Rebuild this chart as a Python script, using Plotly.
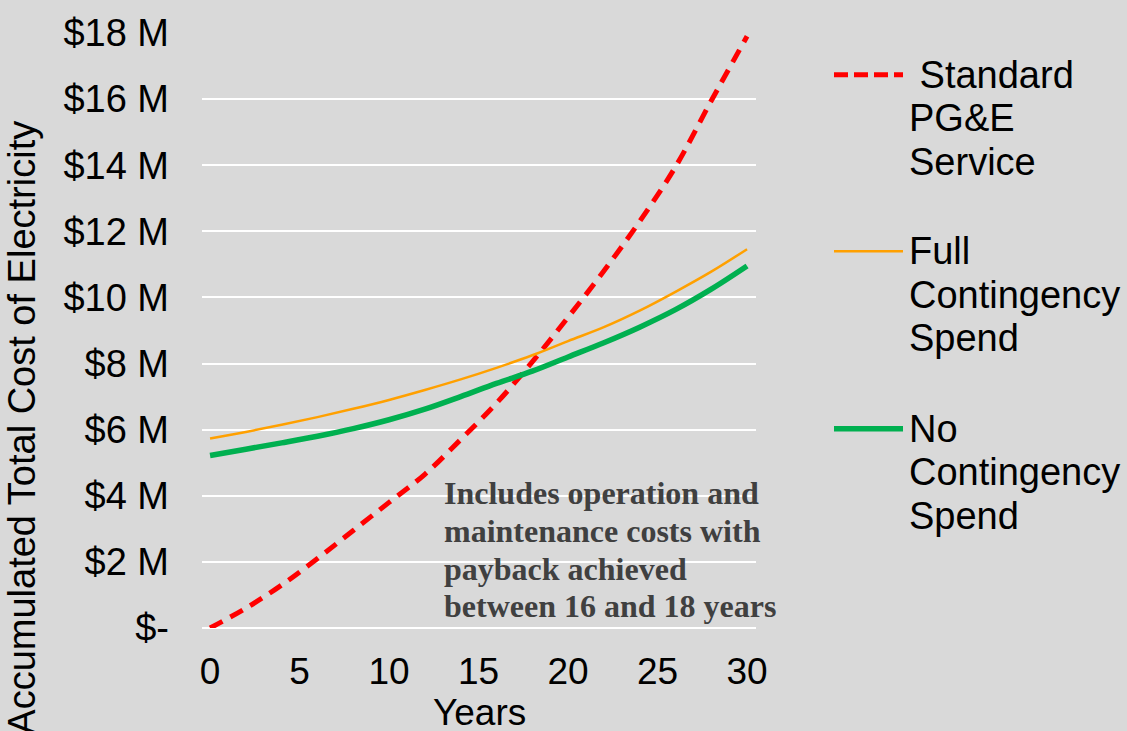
import plotly.graph_objects as go

# ---- data ----
years = [0, 2, 4, 6, 8, 10, 12, 14, 16, 18, 20, 22, 24, 26, 28, 30]
standard_pge = [0.0, 0.6, 1.3, 2.1, 2.95, 3.8, 4.65, 5.7, 6.8, 8.05, 9.4, 10.8, 12.3, 13.95, 15.95, 17.9]
full_contingency = [5.73, 5.93, 6.15, 6.38, 6.63, 6.9, 7.2, 7.52, 7.87, 8.25, 8.68, 9.1, 9.6, 10.17, 10.78, 11.46]
no_contingency = [5.22, 5.41, 5.6, 5.8, 6.03, 6.3, 6.62, 7.0, 7.4, 7.77, 8.2, 8.63, 9.1, 9.63, 10.25, 10.95]

x_ticks = [0, 5, 10, 15, 20, 25, 30]
y_ticks = [0, 2, 4, 6, 8, 10, 12, 14, 16, 18]
y_tick_labels = ["$-", "$2 M", "$4 M", "$6 M", "$8 M", "$10 M", "$12 M", "$14 M", "$16 M", "$18 M"]

legend_lines = [[" Standard", "PG&E", "Service"],
                ["Full", "Contingency", "Spend"],
                ["No", "Contingency", "Spend"]]
note_lines = ["Includes operation and", "maintenance costs with",
              "payback achieved", "between 16 and 18 years"]

RED = "#ff0000"
ORANGE = "#ffa000"
GREEN = "#00b050"
BG = "#d9d9d9"
FONT = "Liberation Sans, Arial, sans-serif"

fig = go.Figure()
fig.add_trace(go.Scatter(x=years, y=standard_pge, mode="lines", name="Standard PG&E Service",
                         line=dict(color=RED, width=5, dash="14px,9px", shape="spline")))
fig.add_trace(go.Scatter(x=years, y=full_contingency, mode="lines", name="Full Contingency Spend",
                         line=dict(color=ORANGE, width=2.5, shape="spline")))
fig.add_trace(go.Scatter(x=years, y=no_contingency, mode="lines", name="No Contingency Spend",
                         line=dict(color=GREEN, width=5.5, shape="spline")))

# plot-area geometry in pixels (for paper-coordinate placement of legend / notes)
L, R, T, B = 202, 756, 28, 628
W, H = R - L, B - T
def px(xp):
    return (xp - L) / W
def py(yp):
    return (B - yp) / H

annotations = []
shapes = []
# custom legend
legend_style = [(70, RED, 5, "14px,6px"), (248, ORANGE, 2.5, "solid"), (427, GREEN, 5.5, "solid")]
for (ytop, col, w, dash), lines in zip(legend_style, legend_lines):
    shapes.append(dict(type="line", xref="paper", yref="paper",
                       x0=px(834), x1=px(903), y0=py(ytop), y1=py(ytop),
                       line=dict(color=col, width=w, dash=dash)))
    for i, ln in enumerate(lines):
        annotations.append(dict(xref="paper", yref="paper", x=px(907), y=py(ytop + 44 * i),
                                xanchor="left", yanchor="middle", showarrow=False,
                                text=ln, font=dict(family=FONT, size=38, color="black")))

# note
for i, ln in enumerate(note_lines):
    annotations.append(dict(xref="paper", yref="paper", x=px(442), y=py(492 + 38 * i),
                            xanchor="left", yanchor="middle", showarrow=False, align="left",
                            text="<b>" + ln + "</b>",
                            font=dict(family="Liberation Serif, Times New Roman, serif",
                                      size=32, color="#404040")))
# axis titles
annotations.append(dict(xref="paper", yref="paper", x=px(479), y=py(713),
                        xanchor="center", yanchor="middle", showarrow=False,
                        text="Years", font=dict(family=FONT, size=37, color="black")))
annotations.append(dict(xref="paper", yref="paper", x=px(22), y=py(426),
                        xanchor="center", yanchor="middle", showarrow=False, textangle=-90,
                        text="Accumulated Total Cost of Electricity",
                        font=dict(family=FONT, size=38, color="black")))

fig.update_layout(
    width=1127, height=731,
    margin=dict(l=L, r=1127 - R, t=T, b=731 - B),
    paper_bgcolor=BG, plot_bgcolor=BG,
    showlegend=False,
    font=dict(family=FONT, color="black"),
    annotations=annotations,
    shapes=shapes,
    xaxis=dict(range=[-0.45, 30.5], tickvals=x_ticks, showgrid=False, zeroline=False,
               showline=False, ticks="", tickfont=dict(size=37, family=FONT),
               ticklabelstandoff=18),
    yaxis=dict(range=[0, 18], tickvals=y_ticks, ticktext=y_tick_labels,
               showgrid=True, gridcolor="white", gridwidth=2,
               zeroline=True, zerolinecolor="white", zerolinewidth=2,
               showline=False, ticks="", tickfont=dict(size=38, family=FONT),
               ticklabelstandoff=32),
)

fig.write_html("out.html", config={"displayModeBar": False},
               post_script="document.body.style.margin='0';document.body.style.overflow='hidden';")
